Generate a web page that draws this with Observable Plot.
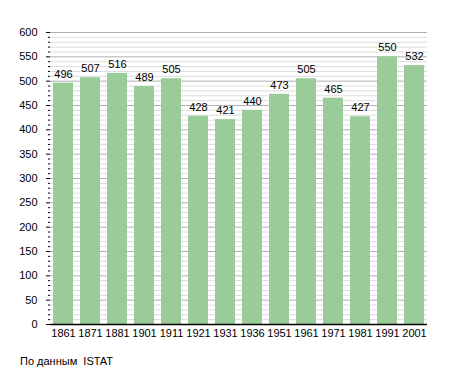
<!DOCTYPE html>
<html>
<head>
<meta charset="utf-8">
<script src="https://cdn.jsdelivr.net/npm/d3@7"></script>
<script src="https://cdn.jsdelivr.net/npm/@observablehq/plot@0.6"></script>
<style>
body { margin: 0; background: #fff; font-family: "Liberation Sans", Arial, sans-serif; }
#cap { font-size: 11px; color: #000; margin: 10px 0 0 20px; }
</style>
</head>
<body>
<div id="chart"></div>
<div id="cap">По данным&nbsp; ISTAT</div>
<script>
const years = ["1861","1871","1881","1901","1911","1921","1931","1936","1951","1961","1971","1981","1991","2001"];
const population = [496, 507, 516, 489, 505, 428, 421, 440, 473, 505, 465, 427, 550, 532];
const majorTicks = d3.range(0, 601, 50);
const minorTicks = d3.range(0, 601, 10).filter(d => d % 50 !== 0);

const data = years.map((y, i) => ({year: y, value: population[i]}));

const chart = Plot.plot({
  width: 455,
  height: 345,
  marginTop: 32,
  marginBottom: 21,
  marginLeft: 50,
  marginRight: 28,
  style: {fontFamily: "'Liberation Sans', Arial, sans-serif", fontSize: "11px", color: "#000", background: "#fff"},
  x: {domain: years, paddingInner: 0.25, paddingOuter: 0.05, label: null},
  y: {domain: [0, 600], label: null},
  marks: [
    Plot.ruleY(minorTicks, {stroke: "#dcdcdc", strokeWidth: 1}),
    Plot.ruleY(majorTicks, {stroke: "#b0b0b0", strokeWidth: 1}),
    Plot.barY(data, {x: "year", y: "value", fill: "#99cc99"}),
    Plot.text(data, {x: "year", y: "value", text: d => String(d.value), dy: -9, fill: "#000", fontSize: 11}),
    Plot.axisY(minorTicks, {tickSize: 2, text: null, stroke: "#000", strokeOpacity: 1}),
    Plot.axisY(majorTicks, {tickSize: 4, tickPadding: 9, stroke: "#000", strokeOpacity: 1, fill: "#000", fontSize: 11}),
    Plot.axisX({tickSize: 0, tickPadding: 5, fill: "#000", fontSize: 11}),
    Plot.ruleX([0], {frameAnchor: "left", stroke: "#000", strokeWidth: 1.5}),
    Plot.ruleY([0], {stroke: "#000", strokeWidth: 1.5})
  ]
});
document.getElementById("chart").appendChild(chart);
</script>
</body>
</html>
